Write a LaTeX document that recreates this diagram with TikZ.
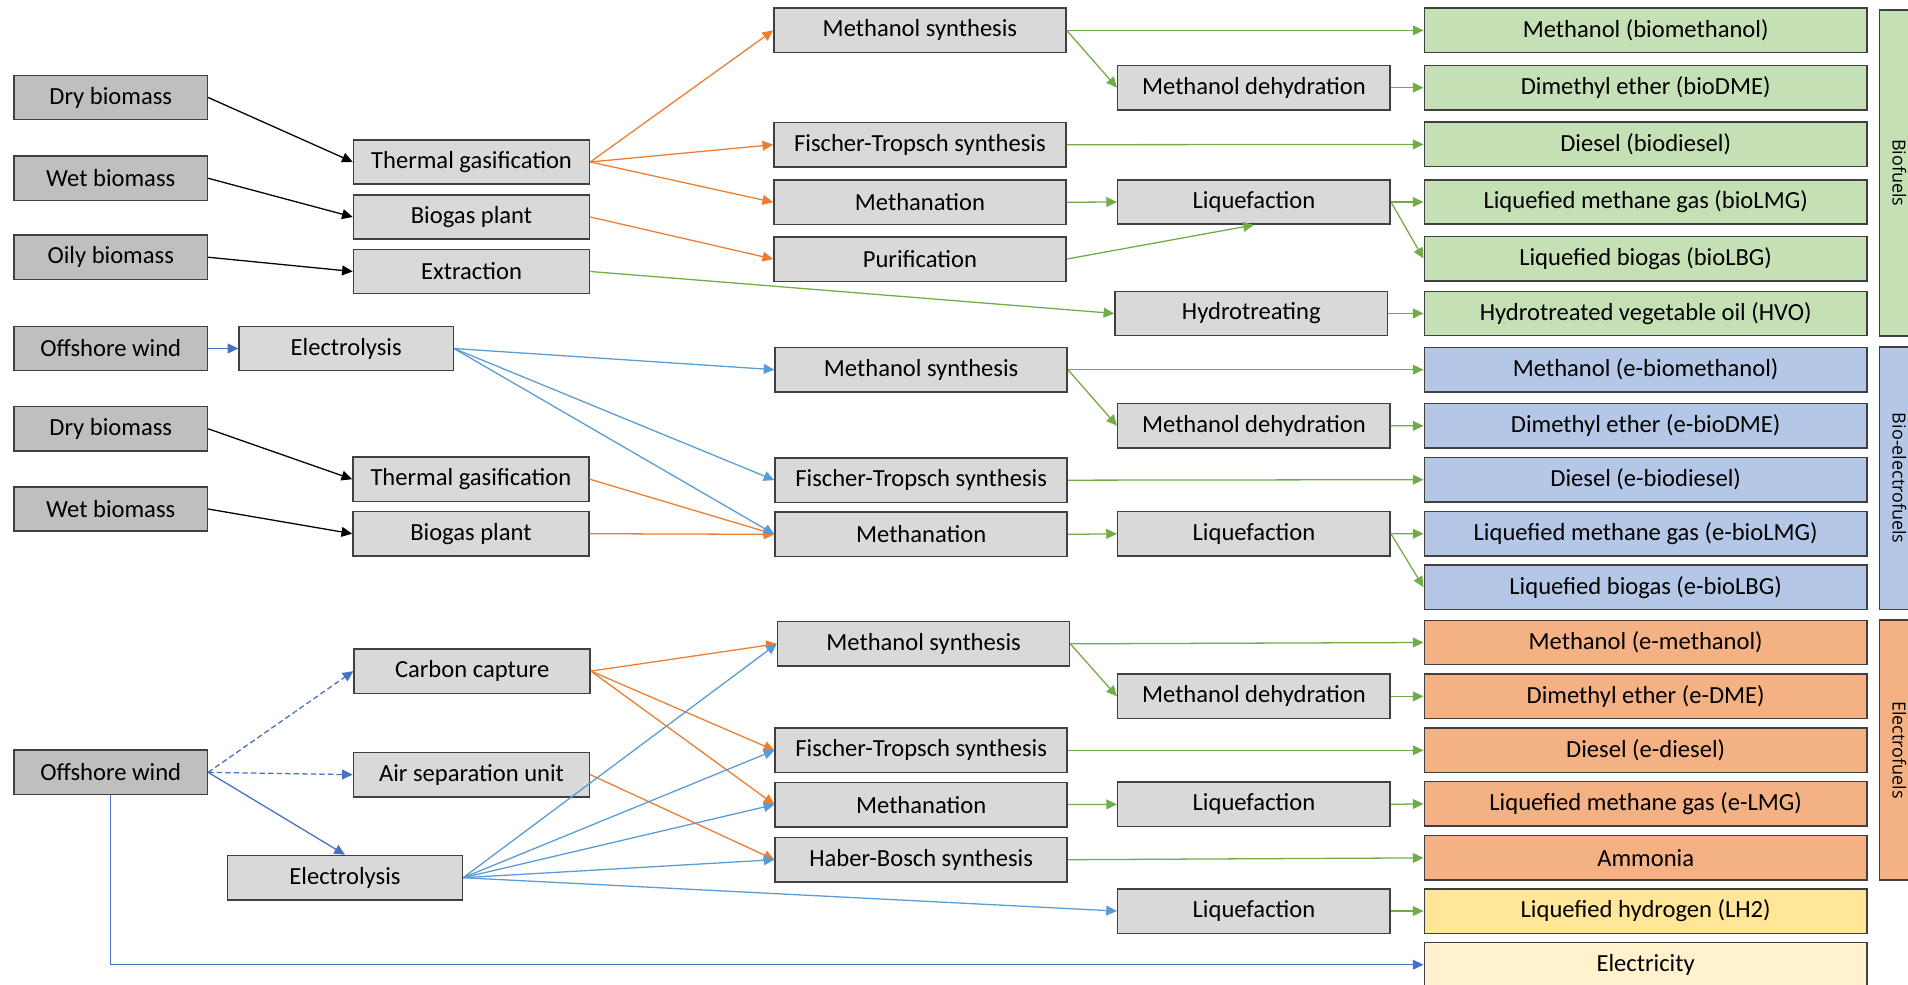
\documentclass[tikz,border=0pt]{standalone}
\usepackage{fontspec}
\setmainfont{Carlito}
\newfontfamily\sidefont{Open Sans}
\usetikzlibrary{arrows.meta}
\definecolor{srcgray}{HTML}{BFBFBF}
\definecolor{procgray}{HTML}{D9D9D9}
\definecolor{biogreen}{HTML}{C5E0B4}
\definecolor{ebioblue}{HTML}{B4C7E7}
\definecolor{eorange}{HTML}{F4B183}
\definecolor{lhyellow}{HTML}{FFE699}
\definecolor{elyellow}{HTML}{FFF2CC}
\definecolor{linegreen}{HTML}{70AD47}
\definecolor{lineorange}{HTML}{ED7D31}
\definecolor{lineblue}{HTML}{5B9BD5}
\definecolor{linedblue}{HTML}{4472C4}
\tikzset{%
  box/.style       = {shape=rectangle, draw=black!75, line width=0.7pt,%
                      inner sep=0pt, minimum height=0.73cm,%
                      font=\fontsize{11.5}{13}\selectfont},%
  src/.style       = {box, fill=srcgray, minimum width=3.18cm},%
  proc/.style      = {box, fill=procgray},%
  pretreat/.style  = {proc, minimum width=3.88cm},%
  synth/.style     = {proc, minimum width=4.8cm},%
  upgrade/.style   = {proc, minimum width=4.48cm},%
  prod/.style      = {box, minimum width=7.28cm},%
  fuelgroup/.style = {box, rotate=-90, minimum height=0.66cm,%
                      font=\sidefont\fontsize{8.4}{10}\selectfont},%
  flow/.style      = {-{Triangle[length=5pt,width=4.6pt]}, line width=0.6pt}%
}
\begin{document}
\begin{tikzpicture}[x=0.02cm,y=-0.02cm]
	\useasboundingbox (0,0) rectangle (1568,809);
	% biofuels
	\node[src] (dry1) at (91,80.1) {Dry biomass};
	\node[src] (wet1) at (91,146.5) {Wet biomass};
	\node[src] (oily) at (91,211.4) {Oily biomass};
	\node[pretreat] (gas1) at (387.5,133.1) {Thermal gasification};
	\node[pretreat] (bgp1) at (387.5,178.3) {Biogas plant};
	\node[pretreat] (extr) at (387.5,223.1) {Extraction};
	\node[synth] (ms1) at (756,25) {Methanol synthesis};
	\node[synth] (ft1) at (756,118.9) {Fischer-Tropsch synthesis};
	\node[synth] (mt1) at (756,166.2) {Methanation};
	\node[synth] (puri) at (756,212.9) {Purification};
	\node[upgrade] (md1) at (1030.5,72) {Methanol dehydration};
	\node[upgrade] (lq1) at (1030.5,166) {Liquefaction};
	\node[upgrade] (hydr) at (1028.3,257.6) {Hydrotreating};
	\node[prod, fill=biogreen] (p1) at (1352.4,25) {Methanol (biomethanol)};
	\node[prod, fill=biogreen] (p2) at (1352.4,72) {Dimethyl ether (bioDME)};
	\node[prod, fill=biogreen] (p3) at (1352.4,118.7) {Diesel (biodiesel)};
	\node[prod, fill=biogreen] (p4) at (1352.4,166) {Liquefied methane gas (bioLMG)};
	\node[prod, fill=biogreen] (p5) at (1352.4,212.5) {Liquefied biogas (bioLBG)};
	\node[prod, fill=biogreen] (p6) at (1352.4,257.6) {Hydrotreated vegetable oil (HVO)};
	% bio-electrofuels
	\node[src] (wind1) at (91,286.4) {Offshore wind};
	\node[src] (dry2) at (91,352.4) {Dry biomass};
	\node[src] (wet2) at (91,418.3) {Wet biomass};
	\node[proc, minimum width=3.52cm] (el1) at (284.5,286.4) {Electrolysis};
	\node[pretreat] (gas2) at (387,393.8) {Thermal gasification};
	\node[pretreat] (bgp2) at (387,438.6) {Biogas plant};
	\node[synth] (ms2) at (757,303.8) {Methanol synthesis};
	\node[synth] (ft2) at (757,394.6) {Fischer-Tropsch synthesis};
	\node[synth] (mt2) at (757,439.1) {Methanation};
	\node[upgrade] (md2) at (1030.5,349.8) {Methanol dehydration};
	\node[upgrade] (lq2) at (1030.5,438.7) {Liquefaction};
	\node[prod, fill=ebioblue] (p7) at (1352.4,303.8) {Methanol (e-biomethanol)};
	\node[prod, fill=ebioblue] (p8) at (1352.4,350) {Dimethyl ether (e-bioDME)};
	\node[prod, fill=ebioblue] (p9) at (1352.4,394.2) {Diesel (e-biodiesel)};
	\node[prod, fill=ebioblue] (p10) at (1352.4,438.6) {Liquefied methane gas (e-bioLMG)};
	\node[prod, fill=ebioblue] (p11) at (1352.4,482.5) {Liquefied biogas (e-bioLBG)};
	% electrofuels
	\node[src] (wind3) at (91,634.7) {Offshore wind};
	\node[pretreat] (cc) at (388,551.5) {Carbon capture};
	\node[pretreat] (asu) at (387.5,636.6) {Air separation unit};
	\node[proc, minimum width=3.86cm] (el3) at (283.5,721.3) {Electrolysis};
	\node[synth] (ms3) at (759,529.1) {Methanol synthesis};
	\node[synth] (ft3) at (757,616.6) {Fischer-Tropsch synthesis};
	\node[synth] (mt3) at (757,661.2) {Methanation};
	\node[synth] (hb) at (757,706.5) {Haber-Bosch synthesis};
	\node[upgrade] (md3) at (1030.5,572.3) {Methanol dehydration};
	\node[upgrade] (lq3) at (1030.5,661) {Liquefaction};
	\node[upgrade] (lq4) at (1030.5,748.7) {Liquefaction};
	\node[prod, fill=eorange] (p12) at (1352.4,528) {Methanol (e-methanol)};
	\node[prod, fill=eorange] (p13) at (1352.4,572.3) {Dimethyl ether (e-DME)};
	\node[prod, fill=eorange] (p14) at (1352.4,616.6) {Diesel (e-diesel)};
	\node[prod, fill=eorange] (p15) at (1352.4,660.6) {Liquefied methane gas (e-LMG)};
	\node[prod, fill=eorange] (p16) at (1352.4,705) {Ammonia};
	\node[prod, fill=lhyellow] (p17) at (1352.4,748.7) {Liquefied hydrogen (LH2)};
	\node[prod, fill=elyellow] (elec) at (1352.4,792.8) {Electricity};
	% side labels
	\node[fuelgroup, fill=biogreen, minimum width=5.36cm] (gbio) at (1561,142) {Biofuels};
	\node[fuelgroup, fill=ebioblue, minimum width=4.31cm] (gebio) at (1561,393) {Bio-electrofuels};
	\node[fuelgroup, fill=eorange, minimum width=4.27cm] (gel) at (1561,616.3) {Electrofuels};

	\draw[flow] (dry1.east) -- (gas1.west);
	\draw[flow] (wet1.east) -- (bgp1.west);
	\draw[flow] (oily.east) -- (extr.west);
	\draw[flow] (dry2.east) -- (gas2.west);
	\draw[flow] (wet2.east) -- (bgp2.west);
	\begin{scope}[color=lineorange]
		\draw[flow] (gas1.east) -- (ms1.west);
		\draw[flow] (gas1.east) -- (ft1.west);
		\draw[flow] (gas1.east) -- (mt1.west);
		\draw[flow] (bgp1.east) -- (puri.west);
		\draw[flow] (gas2.east) -- (mt2.west);
		\draw[flow] (bgp2.east) -- (mt2.west);
		\draw[flow] (cc.east) -- (ms3.west);
		\draw[flow] (cc.east) -- (ft3.west);
		\draw[flow] (cc.east) -- (mt3.west);
		\draw[flow] (asu.east) -- (hb.west);
	\end{scope}
	\begin{scope}[color=lineblue]
		\draw[flow] (el1.east) -- (ms2.west);
		\draw[flow] (el1.east) -- (ft2.west);
		\draw[flow] (el1.east) -- (mt2.west);
		\draw[flow] (el3.east) -- (ms3.west);
		\draw[flow] (el3.east) -- (ft3.west);
		\draw[flow] (el3.east) -- (mt3.west);
		\draw[flow] (el3.east) -- (hb.west);
		\draw[flow] (el3.east) -- (lq4.west);
	\end{scope}
	\begin{scope}[color=linedblue]
		\draw[flow] (wind1.east) -- (el1.west);
		\draw[flow, dash pattern=on 2.5pt off 1.5pt] (wind3.east) -- (cc.west);
		\draw[flow, dash pattern=on 2.5pt off 1.5pt] (wind3.east) -- (asu.west);
		\draw[flow] (wind3.east) -- (el3.north);
		\draw[flow] (wind3.south) |- (elec.west);
	\end{scope}
	\begin{scope}[color=linegreen]
		\draw[flow] (extr.east) -- (hydr.west);
		\draw[flow] (ms1.east) -- (p1.west);
		\draw[flow] (ms1.east) -- (md1.west);
		\draw[flow] (md1.east) -- (p2.west);
		\draw[flow] (ft1.east) -- (p3.west);
		\draw[flow] (mt1.east) -- (lq1.west);
		\draw[flow] (puri.east) -- (lq1.south);
		\draw[flow] (lq1.east) -- (p4.west);
		\draw[flow] (lq1.east) -- (p5.west);
		\draw[flow] (hydr.east) -- (p6.west);
		\draw[flow] (ms2.east) -- (p7.west);
		\draw[flow] (ms2.east) -- (md2.west);
		\draw[flow] (md2.east) -- (p8.west);
		\draw[flow] (ft2.east) -- (p9.west);
		\draw[flow] (mt2.east) -- (lq2.west);
		\draw[flow] (lq2.east) -- (p10.west);
		\draw[flow] (lq2.east) -- (p11.west);
		\draw[flow] (ms3.east) -- (p12.west);
		\draw[flow] (ms3.east) -- (md3.west);
		\draw[flow] (md3.east) -- (p13.west);
		\draw[flow] (ft3.east) -- (p14.west);
		\draw[flow] (mt3.east) -- (lq3.west);
		\draw[flow] (lq3.east) -- (p15.west);
		\draw[flow] (hb.east) -- (p16.west);
		\draw[flow] (lq4.east) -- (p17.west);
	\end{scope}
\end{tikzpicture}
\end{document}
